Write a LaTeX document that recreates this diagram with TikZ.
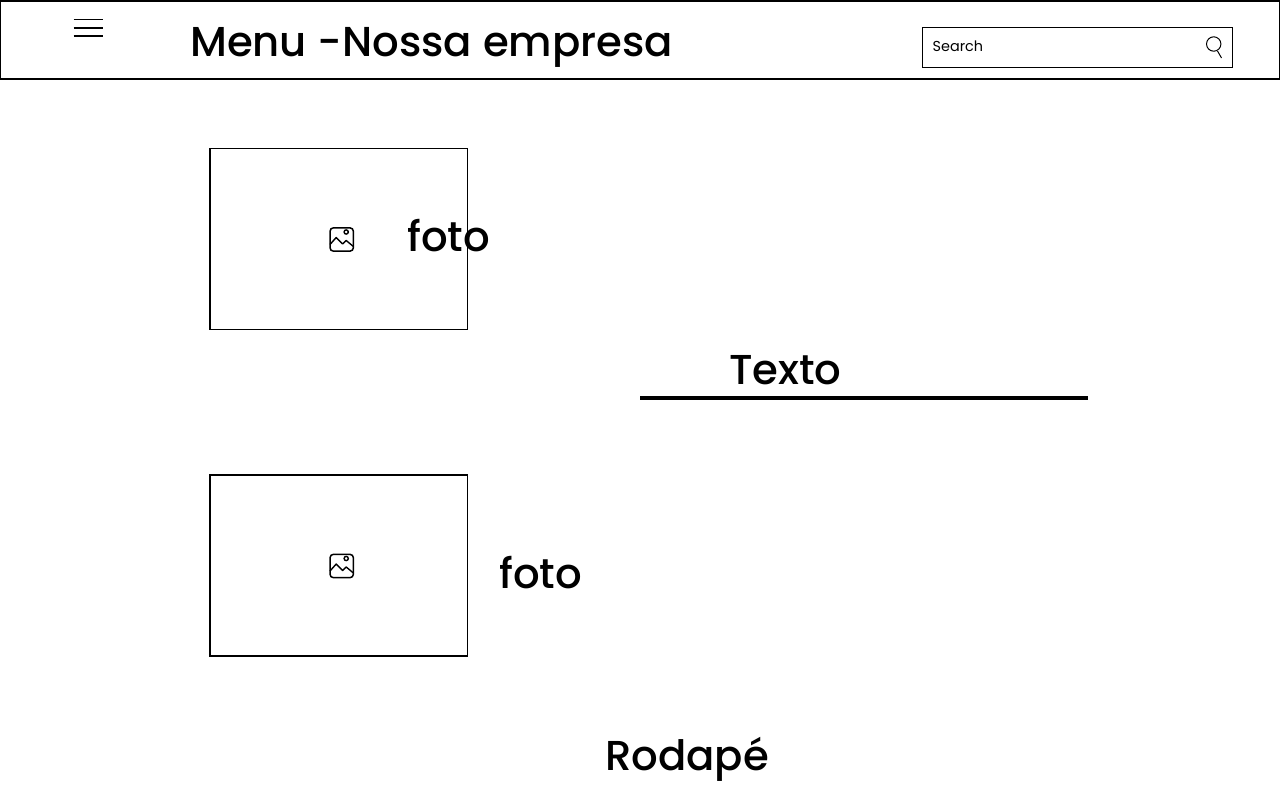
\documentclass[tikz,border=0pt]{standalone}
\usepackage{fontspec}
\setmainfont{Poppins}
\newfontfamily\medfont{Poppins Medium}
\tikzset{
 big/.style={font=\medfont\fontsize{41.8}{50}\selectfont, text=black, inner sep=0pt, anchor=base west},
 box/.style={draw=black, line width=1.4pt, fill=none},
 thin/.style={draw=black, line width=1.3pt},
}
\newcommand{\picicon}[2]{%
 \begin{scope}[shift={(#1,#2)}]
  \draw[line width=1.5pt, rounded corners=3.5pt] (-11.7,-11.7) rectangle (11.7,11.7);
  \draw[line width=1.4pt] (4.5,-7.5) circle (2.1);
  \draw[line width=1.4pt, line join=round] (-11.7,5) -- (-5.5,-2) -- (1,4.5) -- (4.5,1) -- (11.7,7);
 \end{scope}}
\begin{document}
\begin{tikzpicture}[x=1pt,y=-1pt]
\useasboundingbox (0,0) rectangle (1280,800);
\node[box, minimum width=1278.6pt, minimum height=78pt, inner sep=0pt] (header) at (640,40) {};
\coordinate (h1a) at (73.5,19.5); \coordinate (h1b) at (103,19.5);
\coordinate (h2a) at (73.5,28); \coordinate (h2b) at (103,28);
\coordinate (h3a) at (73.5,36); \coordinate (h3b) at (103,36);
\draw[thin] (h1a) -- (h1b); \draw[thin] (h2a) -- (h2b); \draw[thin] (h3a) -- (h3b);
\node[big] (title) at (190,56.5) {Menu -Nossa empresa};
\node[box, minimum width=310pt, minimum height=40pt, inner sep=0pt] (search) at (1077.5,47.5) {};
\node[font=\fontsize{14.4}{18}\selectfont, inner sep=0pt, anchor=base west] (searchtext) at (932.5,51.6) {Search};
\draw[line width=1pt] (1213.7,44) circle (7.2);
\draw[line width=1pt] (1217.5,51) -- (1221.5,58);
\node[box, minimum width=257.6pt, minimum height=181pt, inner sep=0pt] (photoA) at (338.8,239) {};
\node[box, minimum width=257.6pt, minimum height=181pt, inner sep=0pt] (photoB) at (338.8,565.3) {};
\picicon{341.7}{239.5}
\picicon{341.7}{566}
\node[big] (fotoA) at (407,251) {foto};
\node[big] (fotoB) at (499,588) {foto};
\node[big] (texto) at (729,384) {Texto};
\coordinate (la) at (640,398); \coordinate (lb) at (1088,398);
\draw[line width=4pt] (la) -- (lb);
\node[big] (rodape) at (605,770) {Rodapé};
\end{tikzpicture}
\end{document}
